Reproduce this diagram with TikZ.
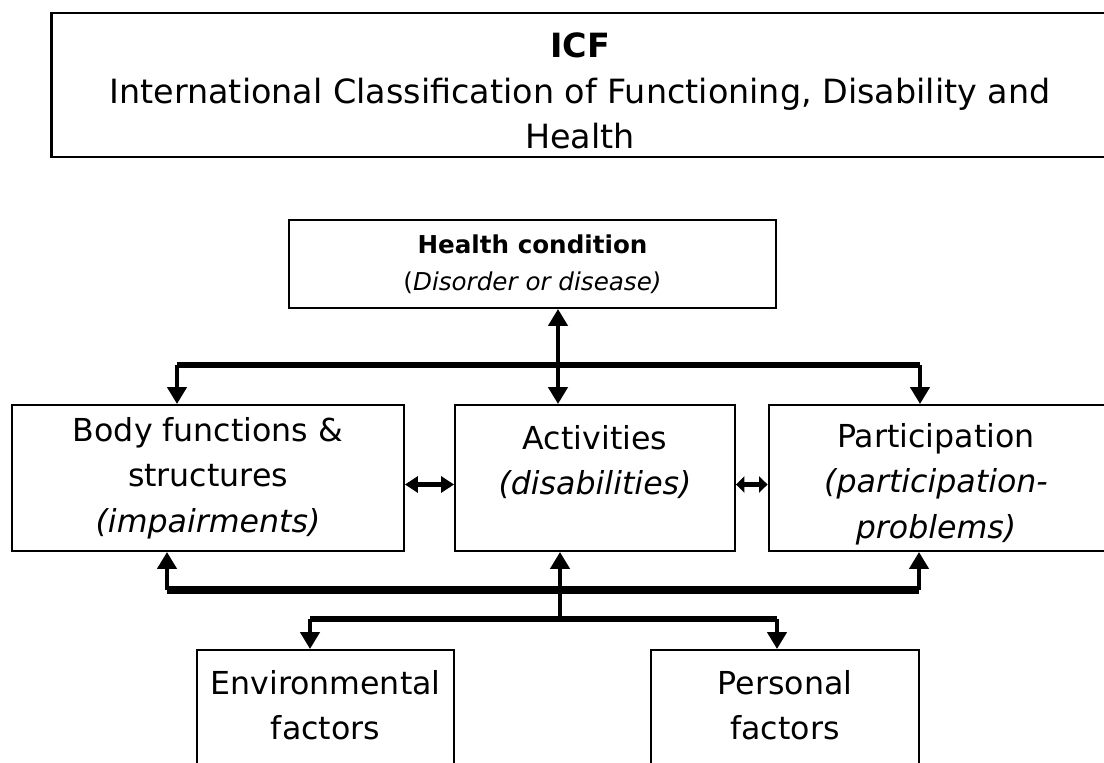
\documentclass[tikz,border=0pt]{standalone}
\usepackage{fontspec}
\setmainfont{DejaVu Sans}
\usetikzlibrary{arrows.meta,positioning}

\tikzset{
  box/.style={draw, line width=1.1pt, inner sep=0pt},
  txt/.style={align=center, font=\fontsize{18}{26}\selectfont},
  bar/.style={line width=0.13cm},
  stem/.style={line width=0.09cm},
  arr/.style={stem, -{Triangle[width=0.38cm,length=0.34cm]}},
  dblarr/.style={stem, {Triangle[width=0.32cm,length=0.26cm]}-{Triangle[width=0.32cm,length=0.26cm]}}
}

\begin{document}
\begin{tikzpicture}[x=0.02cm, y=-0.02cm]
  \useasboundingbox (0,0) rectangle (1104,763);
  \clip (0,0) rectangle (1104,763);

  %% title
  \node[box, line width=1.6pt, minimum width=21.3cm, minimum height=2.88cm] (title) at (584,85) {};
  \node[txt, font=\fontsize{19}{26}\selectfont] at (580,91)
    {\textbf{ICF}\\ International Classification of Functioning, Disability and\\ Health};

  %% boxes
  \node[box, minimum width=9.74cm, minimum height=1.76cm, txt, font=\fontsize{14}{21}\selectfont] (health) at (532.5,264)
    {\textbf{Health condition}\\ (\textit{Disorder or disease)}};
  \node[box, minimum width=7.84cm, minimum height=2.92cm, txt] (body) at (208,478)
    {Body functions \&\\ structures\\ \textit{(impairments)}};
  \node[box, minimum width=5.6cm, minimum height=2.92cm] (activ) at (595,478) {};
  \node[txt, below=0.3cm of activ.north] {Activities\\ \textit{(disabilities)}};
  \node[box, minimum width=6.9cm, minimum height=2.92cm] (partic) at (941,478) {};
  \node[txt] at (936,484) {Participation\\ \textit{(participation-}\\ \textit{problems)}};
  \node[box, minimum width=5.14cm, minimum height=3cm] (env) at (325.5,725) {};
  \node[txt, below=0.3cm of env.north] {Environmental\\ factors};
  \node[box, minimum width=5.36cm, minimum height=3cm] (pers) at (785,725) {};
  \node[txt, below=0.3cm of pers.north] {Personal\\ factors};

  %% upper links
  \coordinate (tm) at (558,365);
  \coordinate (tl) at (177,365);
  \coordinate (tr) at (920,365);
  \draw[bar] (tl) -- (tr);
  \draw[stem, {Triangle[width=0.38cm,length=0.34cm]}-{Triangle[width=0.38cm,length=0.34cm]}] (tm |- health.south) -- (tm |- activ.north);
  \draw[arr] (tl) -- (tl |- body.north);
  \draw[arr] (tr) -- (tr |- partic.north);

  %% side links
  \draw[dblarr] ([yshift=-0.13cm]body.east) -- ([yshift=-0.13cm]activ.west);
  \draw[dblarr, {Triangle[width=0.32cm,length=0.17cm]}-{Triangle[width=0.32cm,length=0.17cm]}] ([yshift=-0.13cm]activ.east) -- ([yshift=-0.13cm]partic.west);

  %% lower links
  \coordinate (bl) at (167,590);
  \coordinate (bm) at (560,590);
  \coordinate (br) at (919,590);
  \coordinate (fm) at (560,619);
  \coordinate (fl) at (310,619);
  \coordinate (fr) at (777,619);
  \draw[bar, line width=0.16cm] (bl) -- (br);
  \draw[arr] (bl) -- (bl |- body.south);
  \draw[arr] (fm) -- (bm |- activ.south);
  \draw[arr] (br) -- (br |- partic.south);
  \draw[bar] (fl) -- (fr);
  \draw[arr] (fl) -- (fl |- env.north);
  \draw[arr] (fr) -- (fr |- pers.north);
\end{tikzpicture}
\end{document}
